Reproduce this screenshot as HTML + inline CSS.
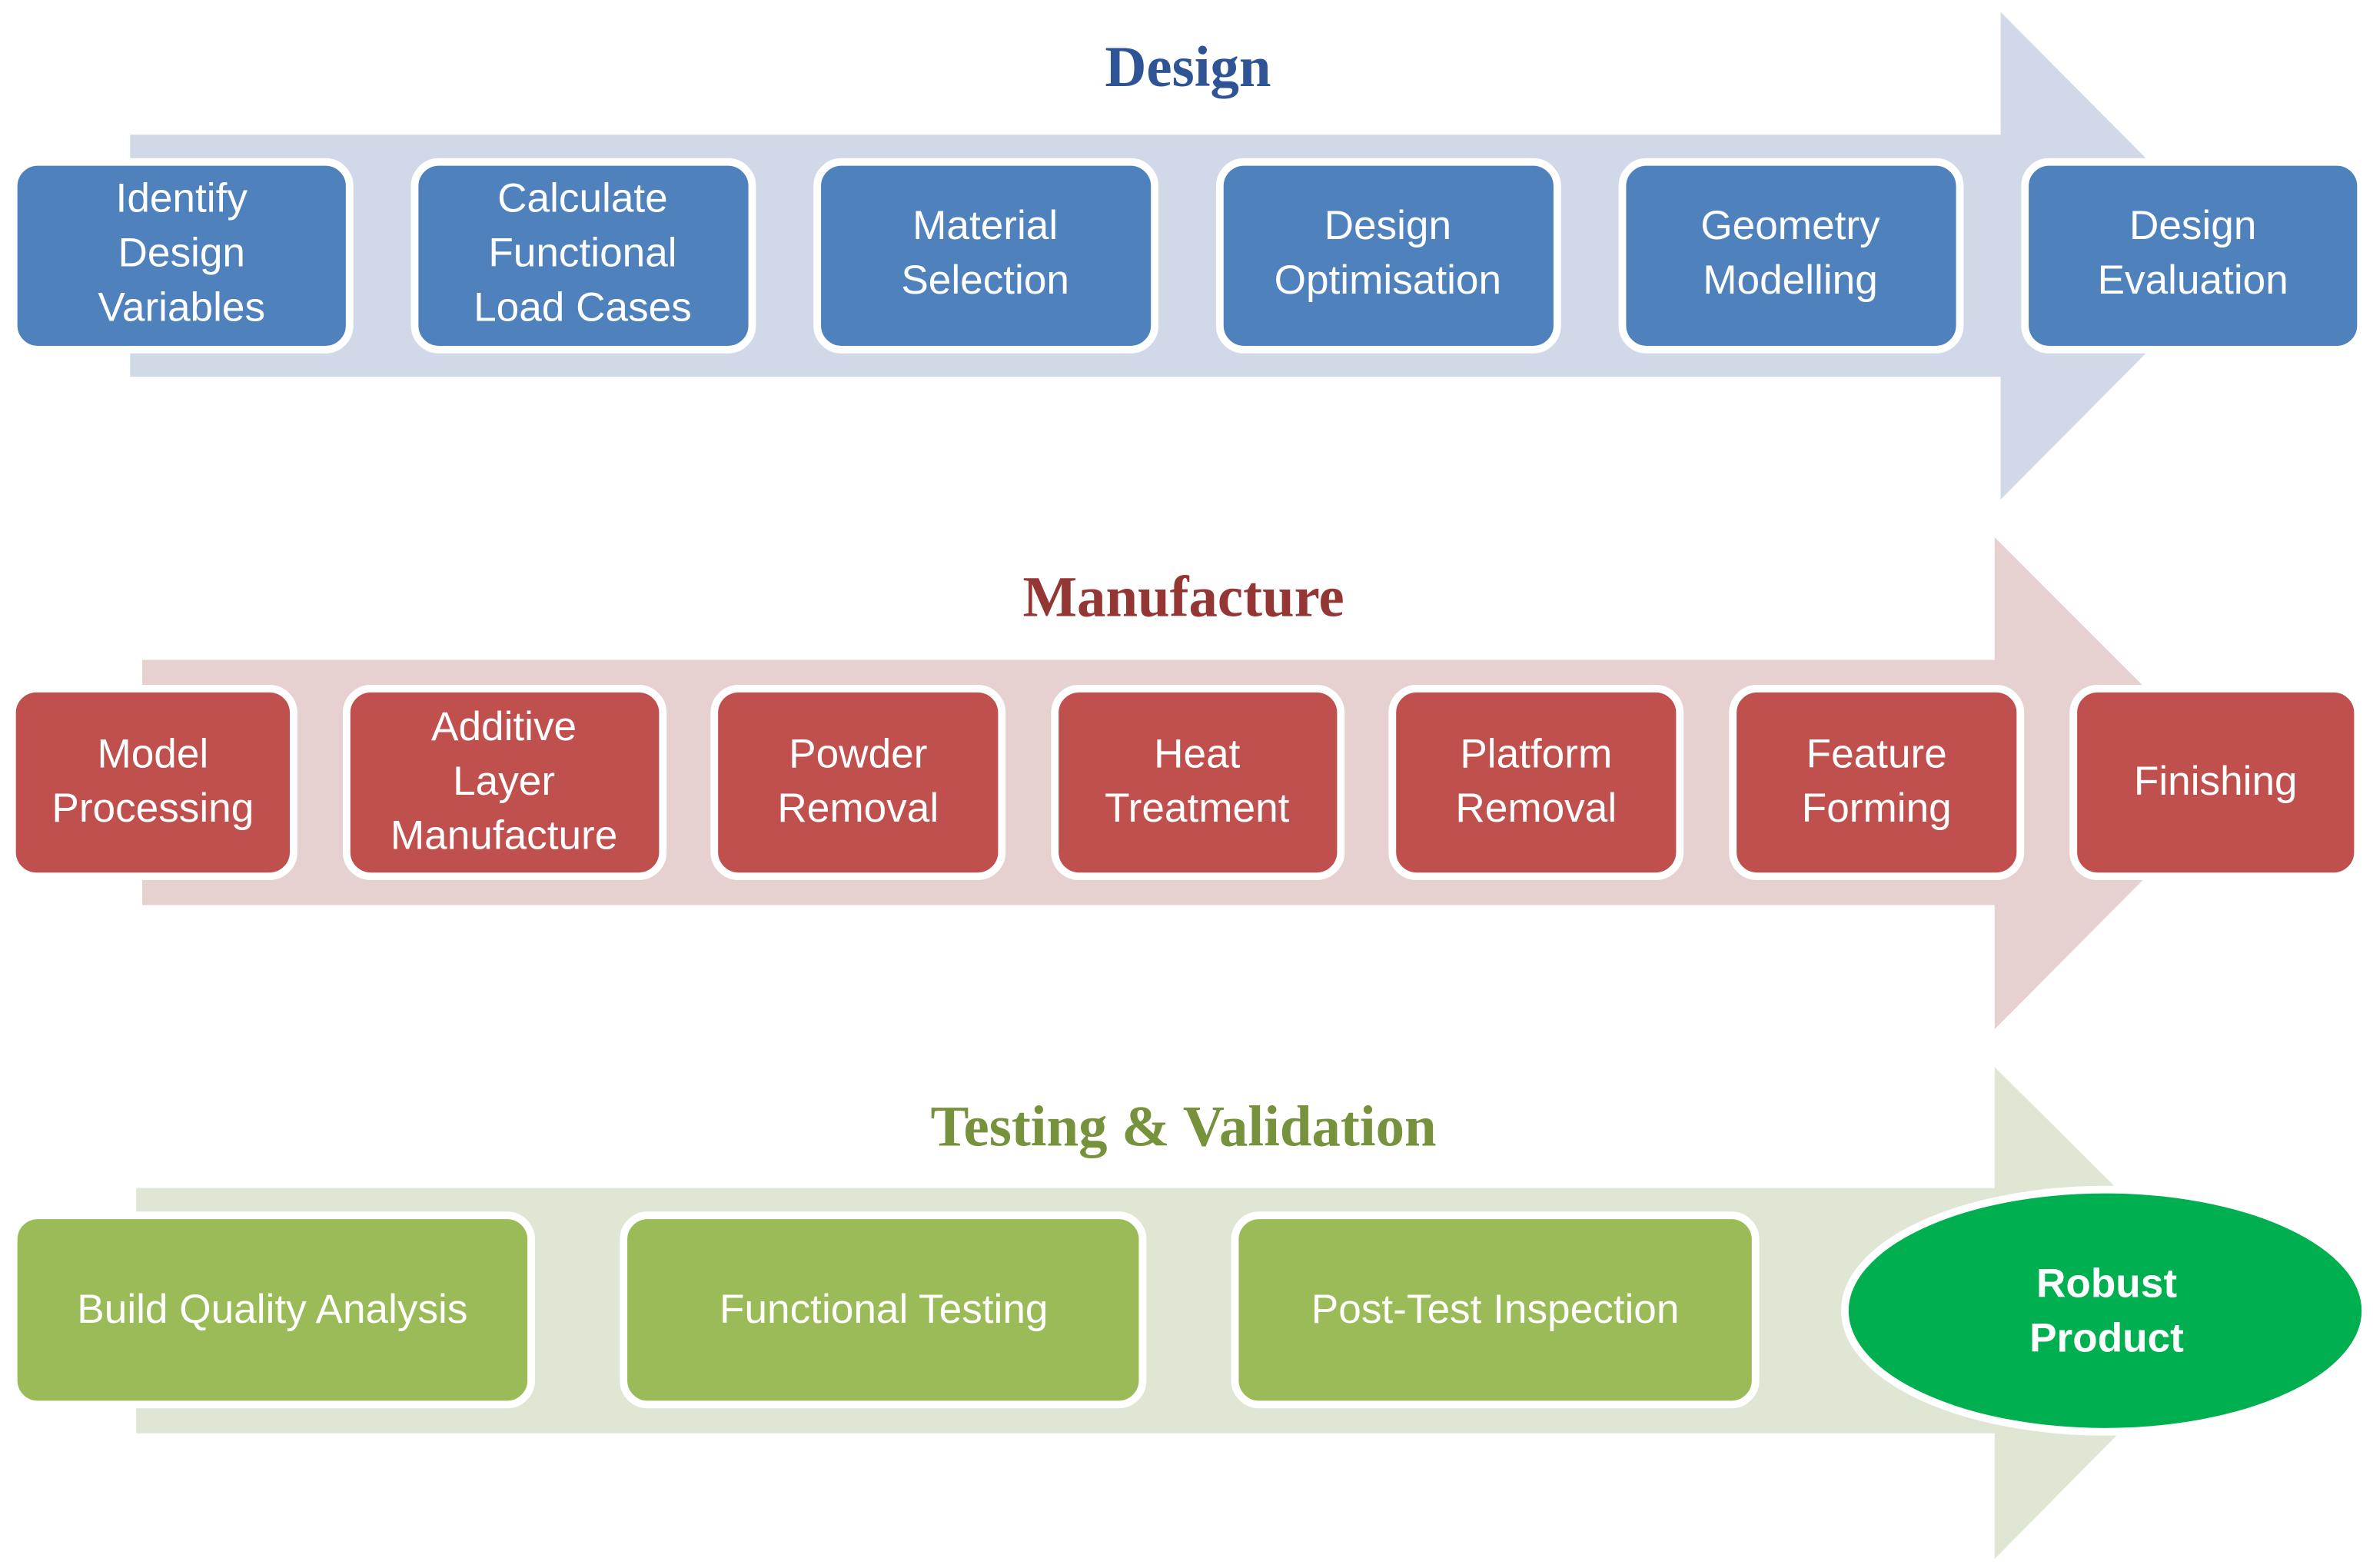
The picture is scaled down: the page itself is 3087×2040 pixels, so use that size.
<!DOCTYPE html>
<html><head><meta charset="utf-8"><style>
html,body{margin:0;padding:0;background:#fff;}
svg{display:block;}
.t{font-family:"Liberation Sans",sans-serif;font-size:27px;fill:#fff;text-anchor:middle;}
.h{font-family:"Liberation Serif",serif;font-weight:bold;font-size:38px;text-anchor:middle;}
</style></head><body>
<svg width="3087" height="2040" viewBox="0 0 1568 1036" preserveAspectRatio="none" xmlns="http://www.w3.org/2000/svg">
<rect width="1568" height="1036" fill="#fff"/>
<!-- Design arrow -->
<polygon points="86,89 1322,89 1322,8 1482,169 1322,330 1322,249 86,249" fill="#d1d8e7"/>
<text class="h" x="785" y="57" fill="#2f5496">Design</text>
<g stroke="#fff" stroke-width="5" fill="#4f81bd">
<rect x="9" y="107" width="222" height="124" rx="16"/>
<rect x="274" y="107" width="223" height="124" rx="16"/>
<rect x="540" y="107" width="223" height="124" rx="16"/>
<rect x="806" y="107" width="223" height="124" rx="16"/>
<rect x="1072" y="107" width="223" height="124" rx="16"/>
<rect x="1338" y="107" width="222" height="124" rx="16"/>
</g>
<text class="t" x="120" y="140">Identify</text><text class="t" x="120" y="176">Design</text><text class="t" x="120" y="212">Variables</text>
<text class="t" x="385" y="140">Calculate</text><text class="t" x="385" y="176">Functional</text><text class="t" x="385" y="212">Load Cases</text>
<text class="t" x="651" y="158">Material</text><text class="t" x="651" y="194">Selection</text>
<text class="t" x="917" y="158">Design</text><text class="t" x="917" y="194">Optimisation</text>
<text class="t" x="1183" y="158">Geometry</text><text class="t" x="1183" y="194">Modelling</text>
<text class="t" x="1449" y="158">Design</text><text class="t" x="1449" y="194">Evaluation</text>
<!-- Manufacture arrow -->
<polygon points="94,436 1318,436 1318,355 1480,517 1318,680 1318,598 94,598" fill="#e7d0d0"/>
<text class="h" x="782" y="407" fill="#943634">Manufacture</text>
<g stroke="#fff" stroke-width="5" fill="#c0504d">
<rect x="8" y="455" width="186" height="124" rx="16"/>
<rect x="229" y="455" width="209" height="124" rx="16"/>
<rect x="472" y="455" width="190" height="124" rx="16"/>
<rect x="697" y="455" width="189" height="124" rx="16"/>
<rect x="920" y="455" width="190" height="124" rx="16"/>
<rect x="1145" y="455" width="190" height="124" rx="16"/>
<rect x="1370" y="455" width="188" height="124" rx="16"/>
</g>
<text class="t" x="101" y="507">Model</text><text class="t" x="101" y="543">Processing</text>
<text class="t" x="333" y="489">Additive</text><text class="t" x="333" y="525">Layer</text><text class="t" x="333" y="561">Manufacture</text>
<text class="t" x="567" y="507">Powder</text><text class="t" x="567" y="543">Removal</text>
<text class="t" x="791" y="507">Heat</text><text class="t" x="791" y="543">Treatment</text>
<text class="t" x="1015" y="507">Platform</text><text class="t" x="1015" y="543">Removal</text>
<text class="t" x="1240" y="507">Feature</text><text class="t" x="1240" y="543">Forming</text>
<text class="t" x="1464" y="525">Finishing</text>
<!-- Testing arrow -->
<polygon points="90,785 1318,785 1318,705 1480,866 1318,1030 1318,947 90,947" fill="#dfe6d3"/>
<text class="h" x="782" y="757" fill="#76923c">Testing &amp; Validation</text>
<g stroke="#fff" stroke-width="5" fill="#9bbb59">
<rect x="9" y="803" width="342" height="125" rx="16"/>
<rect x="412" y="803" width="343" height="125" rx="16"/>
<rect x="816" y="803" width="344" height="125" rx="16"/>
</g>
<ellipse cx="1391" cy="866" rx="172" ry="80" fill="#00b050" stroke="#fff" stroke-width="5"/>
<text class="t" x="180" y="874">Build Quality Analysis</text>
<text class="t" x="584" y="874">Functional Testing</text>
<text class="t" x="988" y="874">Post-Test Inspection</text>
<text class="t" x="1392" y="857" font-weight="bold">Robust</text>
<text class="t" x="1392" y="893" font-weight="bold">Product</text>
</svg>
</body></html>
